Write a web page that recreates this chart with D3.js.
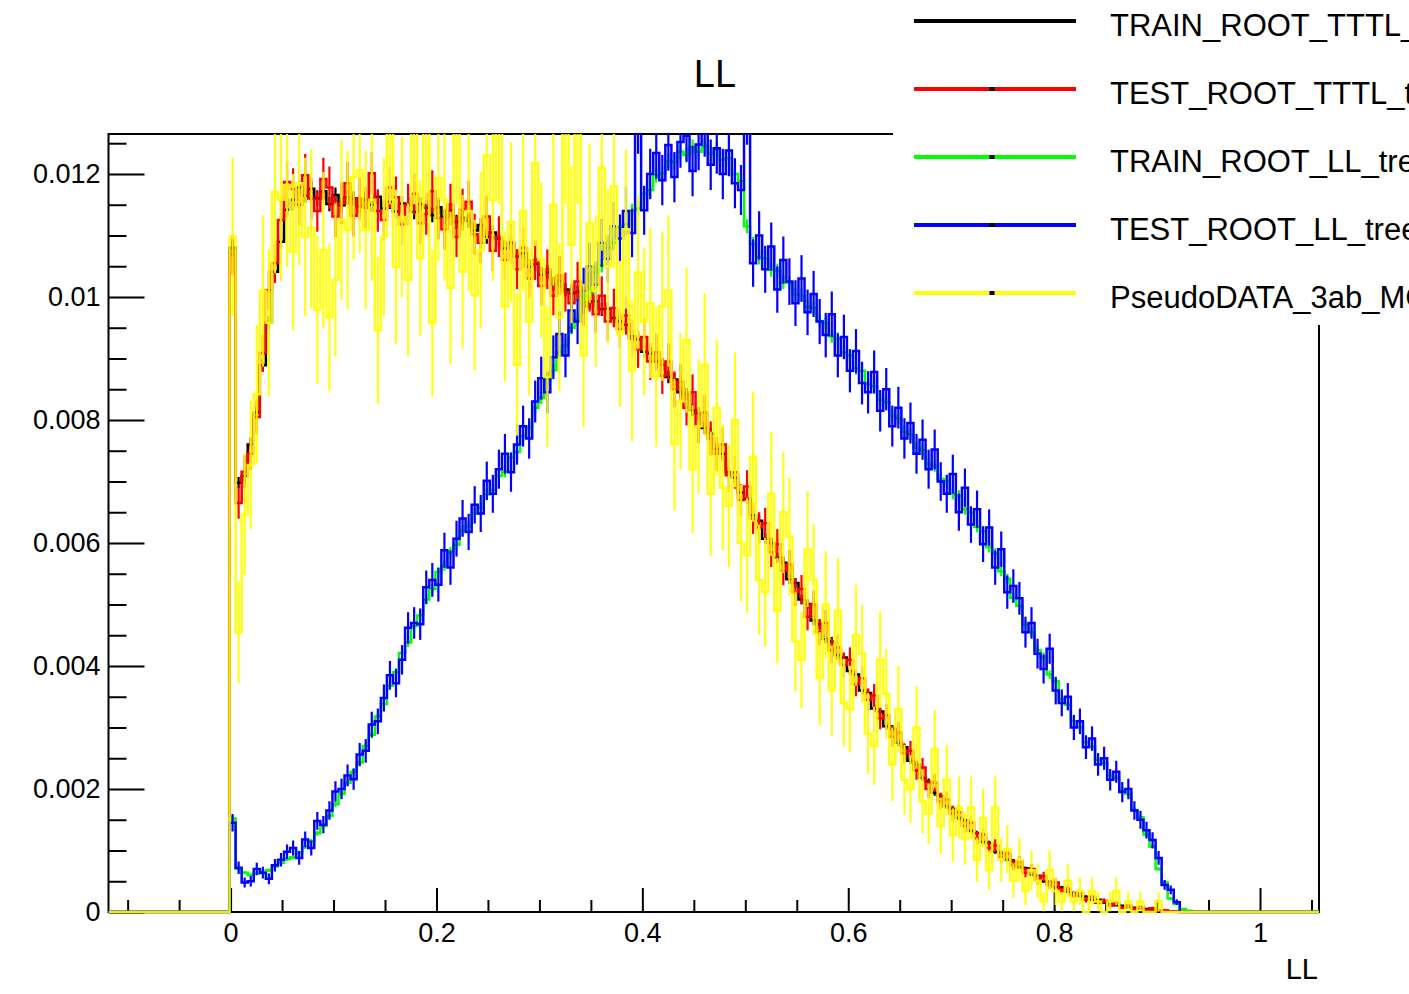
<!DOCTYPE html>
<html>
<head>
<meta charset="utf-8">
<script src="https://cdn.jsdelivr.net/npm/d3@7"></script>
<style>
  body { margin: 0; background: #fff; }
  svg { display: block; }
  text { font-family: "Liberation Sans", Arial, Helvetica, sans-serif; fill: #000; }
</style>
</head>
<body>
<svg id="chart" width="1409" height="994"></svg>
<script>
// ---- binning: 200 equal bins over the axis range; values start at bin 20 ----
const xDomain = [-0.1186, 1.0573];
const yTop = 0.01265;
const nBins = 200;
const firstFilledBin = 20;
const UNIT = 1e-5; // bin contents below are in units of 1e-5

const trainTTTL = [
  1080,698,709,760,812,889,958,1041,1090,1142,
  1158,1178,1165,1176,1160,1172,1151,1166,1149,1162,
  1160,1147,1158,1150,1163,1144,1155,1139,1152,1150,
  1138,1151,1145,1133,1146,1130,1141,1122,1129,1124,
  1108,1117,1098,1105,1095,1079,1088,1066,1071,1049,
  1054,1036,1040,1021,1026,1012,1006,1008,994,992,
  993,980,981,966,960,955,936,931,911,908,
  895,890,870,866,845,842,816,811,787,778,
  753,745,715,706,682,672,645,636,607,600,
  576,568,541,535,508,501,474,468,444,440,
  418,414,392,386,360,356,331,326,302,298,
  275,268,246,240,218,212,194,189,172,168,
  153,149,132,128,114,112,98,96,85,83,
  73,71,61,59,50,49,41,40,33,31,
  26,25,20,20,15,15,11,10,8,7,
  6,5,4,3,2,1,1,0,0
];

const testTTTL = [
  1068,665,716,745,805,909,1011,1055,1125,1187,
  1175,1150,1198,1160,1140,1192,1178,1131,1152,1185,
  1132,1160,1145,1201,1140,1125,1178,1162,1118,1150,
  1168,1120,1135,1172,1128,1110,1150,1098,1142,1155,
  1102,1088,1131,1075,1098,1060,1087,1045,1080,1030,
  1060,1018,1045,1002,1035,1008,990,1025,985,1008,
  972,1002,960,982,948,970,932,915,935,895,
  910,872,895,850,862,820,845,790,812,770,
  745,760,710,715,670,692,640,625,632,585,
  598,555,565,520,525,480,500,455,470,425,
  430,402,410,370,380,345,352,315,320,285,
  292,258,262,230,235,200,210,180,183,160,
  162,140,145,120,126,104,108,90,95,76,
  82,64,70,52,58,44,48,34,38,27,
  31,20,25,15,18,11,14,7,10,5,
  8,3,6,2,3,1,0,0,0
];

const trainLL = [
  152,70,64,60,62,65,68,74,80,86,
  89,96,106,115,128,140,156,175,192,210,
  228,243,270,288,318,338,368,390,421,438,
  465,482,508,525,553,563,585,597,620,627,
  648,657,679,686,709,716,739,748,774,788,
  820,836,866,881,910,921,950,964,995,1008,
  1040,1051,1080,1088,1113,1118,1140,1144,1168,1174,
  1198,1201,1221,1219,1236,1231,1244,1236,1245,1233,
  1240,1223,1226,1200,1188,1115,1086,1064,1063,1044,
  1043,1024,1023,1004,1003,984,982,961,958,936,
  932,910,905,884,880,858,855,833,829,807,
  803,781,777,755,751,729,725,704,701,680,
  677,655,650,626,619,593,583,554,542,511,
  498,467,455,426,415,386,375,346,337,310,
  301,276,269,247,242,222,218,198,192,166,
  154,126,106,70,48,22,13,5,2
];

const testLL = [
  145,72,48,50,70,64,54,76,85,98,
  104,88,118,104,148,142,165,196,200,222,
  216,256,262,305,310,348,385,372,410,462,
  470,468,528,540,532,588,560,607,640,618,
  662,648,701,680,720,745,715,760,790,770,
  830,868,845,902,940,905,978,960,1010,1050,
  1020,1088,1062,1115,1095,1140,1104,1275,1141,1200,
  1234,1190,1247,1195,1252,1262,1205,1248,1270,1215,
  1242,1200,1238,1185,1174,1290,1055,1100,1045,1082,
  1012,1060,1025,990,1030,975,1005,960,938,972,
  905,935,880,912,860,845,878,815,850,790,
  820,770,795,745,768,720,752,700,680,712,
  650,690,630,655,598,625,560,590,520,530,
  510,455,470,420,395,428,360,340,350,300,
  310,268,282,240,250,215,228,195,200,165,
  150,133,117,88,44,36,16,0,0
];

const pseudoData = [
  1098,455,646,727,842,1010,958,1171,1158,1182,
  1073,1185,1098,1112,979,1076,967,1028,1125,1109,
  1195,1206,1109,1158,946,1098,1290,1049,1130,1028,
  1290,1063,1290,958,1193,1158,1015,1290,1041,1140,
  1003,1076,1230,1158,1290,985,1122,890,1140,960,
  1218,1060,870,1150,967,1290,1085,1290,905,1120,
  1010,1210,1050,1180,940,1110,880,1040,960,990,
  870,985,1010,760,830,930,720,790,890,680,
  820,690,660,800,600,580,740,540,520,680,
  490,650,610,440,410,590,540,380,500,360,
  490,340,330,450,420,290,270,410,355,240,
  330,215,200,300,180,160,265,140,215,125,
  170,119,170,85,153,68,170,85,102,51,
  85,34,68,51,17,68,34,17,51,17,
  34,0,34,17,0,17,34,0,17,0,
  17,0,0,17,0,0,0,0,0
];

const seriesNames = [
  "TRAIN_ROOT_TTTL_tree",
  "TEST_ROOT_TTTL_tree",
  "TRAIN_ROOT_LL_tree",
  "TEST_ROOT_LL_tree",
  "PseudoDATA_3ab_MC"
];
const seriesValues = [trainTTTL, testTTTL, trainLL, testLL, pseudoData];
const seriesColors = ["#000000", "#ff0000", "#00ff00", "#0000ff", "#ffff00"];
// weight of one entry in each normalised histogram (sqrt(N) error bars)
const entryWeights = [1.2e-6, 1.0e-5, 1.2e-6, 1.4e-5, 1.5e-4];
const seriesHasMarker = [false, true, true, true, true];

const xMajor = [0, 0.2, 0.4, 0.6, 0.8, 1];
const xLabels = ["0", "0.2", "0.4", "0.6", "0.8", "1"];
const xMinor = [-0.1, -0.05, 0.05, 0.1, 0.15, 0.25, 0.3, 0.35, 0.45, 0.5, 0.55,
                0.65, 0.7, 0.75, 0.85, 0.9, 0.95, 1.05];
const yMajor = [0, 0.002, 0.004, 0.006, 0.008, 0.01, 0.012];
const yLabels = ["0", "0.002", "0.004", "0.006", "0.008", "0.01", "0.012"];
const yMinor = [0.0005, 0.001, 0.0015, 0.0025, 0.003, 0.0035, 0.0045, 0.005, 0.0055,
                0.0065, 0.007, 0.0075, 0.0085, 0.009, 0.0095, 0.0105, 0.011, 0.0115, 0.0125];

const titleText = "LL";
const xTitleText = "LL";

// ---- layout ----
const W = 1409, H = 994;
const frame = { left: 108.5, right: 1319, top: 134, bottom: 912 };
const svg = d3.select("#chart");
svg.append("rect").attr("width", W).attr("height", H).attr("fill", "#fff");

const x = d3.scaleLinear().domain(xDomain).range([frame.left, frame.right]);
const y = d3.scaleLinear().domain([0, yTop]).range([frame.bottom, frame.top]);

function styleAxis(g, fontSize) {
  g.select(".domain").remove();
  g.selectAll("line").attr("stroke", "#000").attr("stroke-width", 2);
  g.selectAll("text").attr("font-size", fontSize)
    .attr("font-family", "'Liberation Sans', Arial, Helvetica, sans-serif")
    .attr("fill", "#000");
}

// x axis (ticks point into the frame)
const gxMinor = svg.append("g").attr("transform", `translate(0,${frame.bottom})`)
  .call(d3.axisBottom(x).tickValues(xMinor).tickSize(-12).tickSizeOuter(0).tickFormat(""));
styleAxis(gxMinor, 27);
const gx = svg.append("g").attr("transform", `translate(0,${frame.bottom})`)
  .call(d3.axisBottom(x).tickValues(xMajor).tickSize(-24).tickSizeOuter(0)
    .tickPadding(11).tickFormat((d, i) => xLabels[i]));
styleAxis(gx, 27);

// y axis
const gyMinor = svg.append("g").attr("transform", `translate(${frame.left},0)`)
  .call(d3.axisLeft(y).tickValues(yMinor).tickSize(-18).tickSizeOuter(0).tickFormat(""));
styleAxis(gyMinor, 27);
const gy = svg.append("g").attr("transform", `translate(${frame.left},0)`)
  .call(d3.axisLeft(y).tickValues(yMajor).tickSize(-36).tickSizeOuter(0)
    .tickPadding(8).tickFormat((d, i) => yLabels[i]));
styleAxis(gy, 27);

// frame
svg.append("rect")
  .attr("x", frame.left).attr("y", frame.top)
  .attr("width", frame.right - frame.left).attr("height", frame.bottom - frame.top)
  .attr("fill", "none").attr("stroke", "#000").attr("stroke-width", 2);

// ---- histograms ----
svg.append("clipPath").attr("id", "plotClip")
  .append("rect")
  .attr("x", frame.left).attr("y", frame.top)
  .attr("width", frame.right - frame.left).attr("height", frame.bottom - frame.top + 1.5);

const plot = svg.append("g").attr("clip-path", "url(#plotClip)");
const binWidth = (xDomain[1] - xDomain[0]) / nBins;

function toBins(arr) {
  const v = new Array(nBins).fill(0);
  arr.forEach((d, i) => { v[firstFilledBin + i] = d * UNIT; });
  return v;
}

const stepLine = d3.line()
  .x(d => x(d[0]))
  .y(d => y(d[1]))
  .curve(d3.curveStepAfter);

seriesValues.forEach((arr, s) => {
  const bins = toBins(arr);
  const pts = bins.map((v, i) => [xDomain[0] + i * binWidth, v]);
  pts.push([xDomain[1], bins[nBins - 1]]);
  const g = plot.append("g")
    .attr("stroke", seriesColors[s])
    .attr("stroke-opacity", s === 4 ? 0.92 : 1)
    .attr("fill", "none");

  // error bars at bin centres
  const filled = bins.map((v, i) => ({ v, i })).filter(d => d.v > 0);
  g.selectAll("line.err").data(filled).join("line")
    .attr("class", "err")
    .attr("x1", d => x(xDomain[0] + (d.i + 0.5) * binWidth))
    .attr("x2", d => x(xDomain[0] + (d.i + 0.5) * binWidth))
    .attr("y1", d => y(d.v - Math.sqrt(d.v * entryWeights[s])))
    .attr("y2", d => y(d.v + Math.sqrt(d.v * entryWeights[s])))
    .attr("stroke-width", 2.2);

  g.append("path")
    .attr("d", stepLine(pts))
    .attr("stroke-width", 2.5)
    .attr("stroke-linejoin", "miter");
});

// ---- titles ----
svg.append("text")
  .attr("x", 715).attr("y", 87)
  .attr("text-anchor", "middle")
  .attr("font-size", 38)
  .text(titleText);

svg.append("text")
  .attr("x", 1318).attr("y", 979)
  .attr("text-anchor", "end")
  .attr("font-size", 29)
  .text(xTitleText);

// ---- legend ----
const legend = svg.append("g");
legend.append("rect")
  .attr("x", 893).attr("y", 0).attr("width", W - 893 + 10).attr("height", 325)
  .attr("fill", "#fff");

const legendRowY = d3.scaleLinear().domain([0, 4]).range([21, 293]);
seriesNames.forEach((name, s) => {
  const ly = legendRowY(s);
  legend.append("line")
    .attr("x1", 914).attr("x2", 1076).attr("y1", ly).attr("y2", ly)
    .attr("stroke", seriesColors[s]).attr("stroke-width", 4);
  if (seriesHasMarker[s]) {
    legend.append("rect")
      .attr("x", 989.5).attr("y", ly - 2).attr("width", 5).attr("height", 4)
      .attr("fill", "#000");
  }
  legend.append("text")
    .attr("x", 1110).attr("y", ly + 15)
    .attr("font-size", 31)
    .text(name);
});
</script>
</body>
</html>
